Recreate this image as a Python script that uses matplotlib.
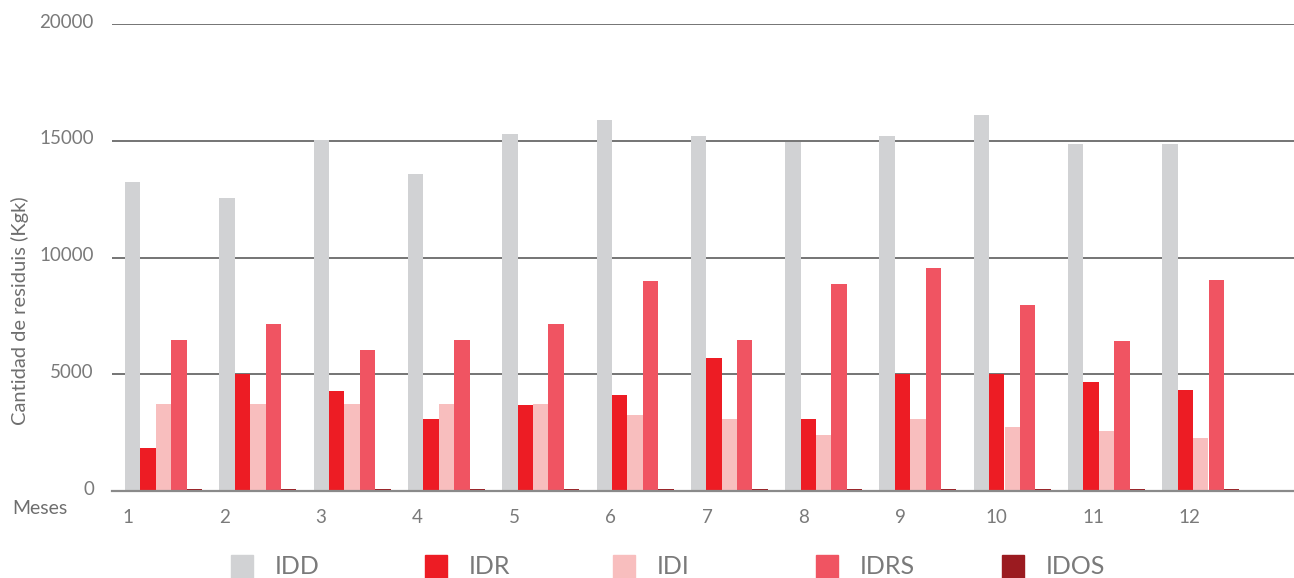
import numpy as np
import matplotlib.pyplot as plt
from matplotlib.patches import Rectangle
import matplotlib.transforms as mtransforms

plt.rcParams['font.family'] = ['Lato', 'DejaVu Sans']

# datos
meses = ['1', '2', '3', '4', '5', '6', '7', '8', '9', '10', '11', '12']
series = ['IDD', 'IDR', 'IDI', 'IDRS', 'IDOS']
idd = [13230, 12550, 15030, 13580, 15290, 15890, 15200, 14960, 15200, 16100, 14860, 14860]
idr = [1840, 5000, 4290, 3100, 3700, 4120, 5700, 3100, 5000, 5000, 4680, 4330]
idi = [3740, 3740, 3740, 3740, 3740, 3270, 3100, 2380, 3100, 2760, 2550, 2250]
idrs = [6470, 7150, 6040, 6470, 7150, 8990, 6470, 8870, 9550, 7970, 6420, 9050]
idos = [90, 90, 90, 90, 90, 90, 90, 90, 90, 90, 90, 90]
valores = [idd, idr, idi, idrs, idos]
colores = ['#D1D2D4', '#ED1C24', '#F8BEBE', '#F05462', '#9B1B20']

W, H = 1294, 578
fig = plt.figure(figsize=(W / 100, H / 100), dpi=100)
ax = fig.add_axes([112 / W, 1 - 491 / H, (W - 112) / W, (491 - 24) / H])

x = np.arange(len(meses))
bw = 15.4 / 94.3
for k, (vals, col) in enumerate(zip(valores, colores)):
    ax.bar(x + k * bw, vals, width=bw, align='edge', color=col, linewidth=0, zorder=2)

ax.set_xlim(-13 / 94.3, (W - 125) / 94.3)
ax.set_ylim(0, 20000)
ax.set_yticks([0, 5000, 10000, 15000, 20000])
ax.yaxis.grid(True, color='#747474', linewidth=1.4)
ax.set_axisbelow(True)
for s in ['top', 'right', 'left']:
    ax.spines[s].set_visible(False)
ax.spines['bottom'].set_color('#8a8a8a')
ax.spines['bottom'].set_linewidth(1.6)

ax.set_xticks(0.032 + 1.0233 * x)
ax.set_xticklabels(meses)
ax.tick_params(axis='both', length=0, labelsize=13.5, labelcolor='#7a7a7a')
ax.tick_params(axis='x', pad=13)
ax.tick_params(axis='y', pad=13)
off = mtransforms.ScaledTranslation(0, 2.5 / 72, fig.dpi_scale_trans)
for lab in ax.get_yticklabels():
    lab.set_transform(lab.get_transform() + off)

fig.text(12 / W, 1 - 509 / H, 'Meses', fontsize=14, color='#6e6e6e',
         ha='left', va='center')
fig.text(20 / W, 1 - 311 / H, 'Cantidad de residuis (Kgk)', fontsize=14.5,
         color='#6e6e6e', rotation=90, ha='center', va='center')

# leyenda
px = [231, 425, 613, 816, 1002]
for xp, nombre, col in zip(px, series, colores):
    fig.patches.append(Rectangle((xp / W, 1 - 578 / H), 22 / W, 23 / H,
                                 transform=fig.transFigure, color=col))
    fig.text((xp + 44) / W, 1 - 566 / H, nombre, fontsize=18, color='#7a7a7a',
             ha='left', va='center')

fig.savefig('out.png', dpi=100)
